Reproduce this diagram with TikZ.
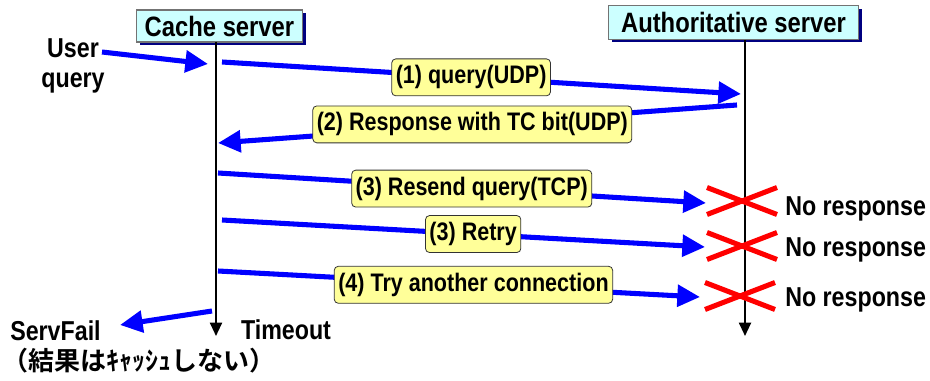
\documentclass[tikz,border=0pt]{standalone}
\usepackage{fontspec}
\setmainfont{Liberation Sans}[FakeStretch=0.85]
\newfontfamily\jpfont{Noto Sans CJK JP}[BoldFont={Noto Sans CJK JP Bold}]
\usetikzlibrary{arrows.meta,shadows}

\definecolor{hdrfill}{HTML}{CCFFFF}
\definecolor{hdrshadow}{HTML}{000080}
\definecolor{lblfill}{HTML}{FFFF99}
\definecolor{msgblue}{HTML}{0000FF}
\definecolor{crossred}{HTML}{FF0000}

\tikzset{
  header/.style={draw=black!55, line width=0.8pt, fill=hdrfill,
    font=\fontsize{21}{23}\selectfont\bfseries, inner sep=0pt,
    drop shadow={shadow xshift=2.5pt, shadow yshift=-2.5pt, fill=hdrshadow, opacity=1}},
  lifeline/.style={line width=1.5pt, -{Triangle[length=10pt,width=9pt]}},
  msg/.style={draw=msgblue, line width=3.8pt, -{Triangle[length=17pt,width=16pt]}},
  lbl/.style={draw=black!80, line width=0.6pt, fill=lblfill, rounded corners=3pt,
    font=\fontsize{19}{21}\selectfont\bfseries, inner xsep=3pt, inner ysep=5pt},
  plain/.style={font=\fontsize{20.5}{23}\selectfont\bfseries, inner sep=0pt},
  cross/.style={draw=crossred, line width=3.8pt}
}

\begin{document}
\begin{tikzpicture}[x=0.75pt, y=-0.75pt]
\useasboundingbox (0,0) rectangle (930,381);

% server headers
\node[header, minimum width=125pt, minimum height=24pt] (cache) at (219.5,26) {Cache server};
\node[header, minimum width=187.5pt, minimum height=25pt] (auth) at (733.5,22.5) {Authoritative server};

% lifelines
\coordinate (cacheTop) at (216,42);
\coordinate (cacheEnd) at (216,336);
\coordinate (authTop) at (745,40);
\coordinate (authEnd) at (745,336);
\draw[lifeline] (cacheTop) -- (cacheEnd);
\draw[lifeline] (authTop) -- (authEnd);

% message end points
\coordinate (uqA) at (102,52);   \coordinate (uqB) at (208,64);
\coordinate (m1A) at (222,62);   \coordinate (m1B) at (741,94);
\coordinate (m2A) at (737,105);  \coordinate (m2B) at (218,143);
\coordinate (m3A) at (218,173);  \coordinate (m3B) at (706,203);
\coordinate (m4A) at (222,220);  \coordinate (m4B) at (705,247);
\coordinate (m5A) at (218,271);  \coordinate (m5B) at (700,297);
\coordinate (sfA) at (212,311);  \coordinate (sfB) at (120,325);

% messages with their labels
\draw[msg] (uqA) -- (uqB);
\draw[msg] (m1A) -- (m1B) node[lbl, pos=0.48] (l1) {(1) query(UDP)};
\draw[msg] (m2A) -- (m2B) node[lbl, pos=0.51] (l2) {(2) Response with TC bit(UDP)};
\draw[msg] (m3A) -- (m3B) node[lbl, pos=0.52] (l3) {(3) Resend query(TCP)};
\draw[msg] (m4A) -- (m4B) node[lbl, pos=0.52] (l4) {(3) Retry};
\draw[msg] (m5A) -- (m5B) node[lbl, pos=0.53] (l5) {(4) Try another connection};
\draw[msg] (sfA) -- (sfB);

% lost requests
\foreach \cx/\cy in {742/201, 742/246, 740/296}{
  \draw[cross] (\cx-35,\cy-13.5) -- (\cx+35,\cy+13.5);
  \draw[cross] (\cx-35,\cy+13.5) -- (\cx+35,\cy-13.5);
}

% free texts
\node[plain, align=center] (user) at (73,66) {User\\query};
\node[plain] (timeout) at (286,330) {Timeout};
\node[plain, anchor=west] (servfail) at (10,331) {ServFail};
\node[plain, anchor=west] (nocache) at (2,361) {\jpfont\bfseries\fontsize{19.5}{22}\selectfont （結果はｷｬｯｼｭしない）};
\node[plain, anchor=west] (nr1) at (785,209) {No response};
\node[plain, anchor=west] (nr2) at (785,250) {No response};
\node[plain, anchor=west] (nr3) at (785,300) {No response};
\end{tikzpicture}
\end{document}
